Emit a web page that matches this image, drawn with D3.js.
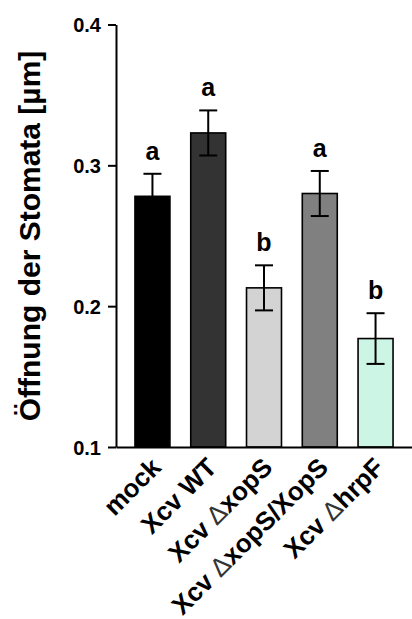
<!DOCTYPE html>
<html>
<head>
<meta charset="utf-8">
<script src="https://cdn.jsdelivr.net/npm/d3@7"></script>
<style>
  body { margin: 0; background: #fff; }
  svg { display: block; font-family: "Liberation Sans", Arial, sans-serif; }
</style>
</head>
<body>
<svg id="chart" width="412" height="619"></svg>
<script>
// data
const groups = ["mock", "Xcv WT", "Xcv ΔxopS", "Xcv ΔxopS/XopS", "Xcv ΔhrpF"];
const means = [0.278, 0.323, 0.213, 0.280, 0.177];
const errors = [0.016, 0.016, 0.016, 0.016, 0.018];
const letters = ["a", "a", "b", "a", "b"];
const colors = ["#000000", "#333333", "#d3d3d3", "#808080", "#ccf5e6"];
const yTicks = [0.1, 0.2, 0.3, 0.4];

// label pieces: [text, bold]  (the delta is drawn thin)
const labelParts = [
    [["mock", true]],
    [["Xcv WT", true]],
    [["Xcv ", true], ["Δ", false], ["xopS", true]],
    [["Xcv ", true], ["Δ", false], ["xopS/XopS", true]],
    [["Xcv ", true], ["Δ", false], ["hrpF", true]]
];

const svg = d3.select("#chart");
const margin = { top: 24.5, left: 116, right: 0, bottom: 172 };
const height = 619 - margin.bottom; // baseline y

const x = d3.scaleBand()
    .domain(groups)
    .range([margin.left, 412])
    .paddingInner(0.373)
    .paddingOuter(0.34);

const y = d3.scaleLinear()
    .domain([0.1, 0.4])
    .range([height, margin.top]);

// bars
svg.selectAll(".bar")
    .data(groups)
    .enter().append("rect")
    .attr("class", "bar")
    .attr("x", d => x(d))
    .attr("width", x.bandwidth())
    .attr("y", (d, i) => y(means[i]))
    .attr("height", (d, i) => height - y(means[i]))
    .attr("fill", (d, i) => colors[i])
    .attr("stroke", "#000")
    .attr("stroke-width", 1.6);

// error bars
const capW = 9;
groups.forEach((g, i) => {
    const cx = x(g) + x.bandwidth() / 2;
    const top = y(means[i] + errors[i]);
    const bot = y(means[i] - errors[i]);
    const eg = svg.append("g").attr("stroke", "#000").attr("stroke-width", 2);
    eg.append("line").attr("x1", cx).attr("x2", cx).attr("y1", top).attr("y2", bot);
    eg.append("line").attr("x1", cx - capW).attr("x2", cx + capW).attr("y1", top).attr("y2", top);
    eg.append("line").attr("x1", cx - capW).attr("x2", cx + capW).attr("y1", bot).attr("y2", bot);

    svg.append("text")
        .attr("x", cx)
        .attr("y", top - 14)
        .attr("text-anchor", "middle")
        .attr("font-weight", "bold")
        .attr("font-size", "25px")
        .text(letters[i]);
});

// y axis
const yAxis = svg.append("g")
    .attr("transform", "translate(" + margin.left + ",0)")
    .call(d3.axisLeft(y).tickValues(yTicks).tickFormat(d3.format(".1f")).tickSize(8).tickPadding(7).tickSizeOuter(0));
yAxis.select(".domain").attr("stroke-width", 2);
yAxis.selectAll(".tick line").attr("stroke-width", 2);
yAxis.selectAll("text")
    .attr("font-family", "Liberation Sans, Arial, sans-serif")
    .attr("font-size", "20px")
    .attr("font-weight", "bold")
    .attr("fill", "#000")
    .attr("dy", "0.36em");

// x axis line
const xAxis = svg.append("g")
    .attr("transform", "translate(0," + height + ")")
    .call(d3.axisBottom(x).tickSize(0).tickSizeOuter(0).tickFormat(""));
xAxis.select(".domain").attr("stroke-width", 2);

// x labels rotated
groups.forEach((g, i) => {
    const cx = x(g) + x.bandwidth() / 2 + 10;
    const t = svg.append("text")
        .attr("transform", "translate(" + cx + "," + (height + 22) + ") rotate(-45)")
        .attr("text-anchor", "end")
        .attr("font-size", "26px");
    labelParts[i].forEach(p => {
        t.append("tspan")
            .attr("font-weight", p[1] ? "bold" : "normal")
            .attr("fill", p[1] ? "#000" : "#333")
            .text(p[0]);
    });
});

// y title
svg.append("text")
    .attr("transform", "translate(40," + 236 + ") rotate(-90)")
    .attr("text-anchor", "middle")
    .attr("font-weight", "bold")
    .attr("font-size", "30px")
    .text("Öffnung der Stomata [µm]");
</script>
</body>
</html>
